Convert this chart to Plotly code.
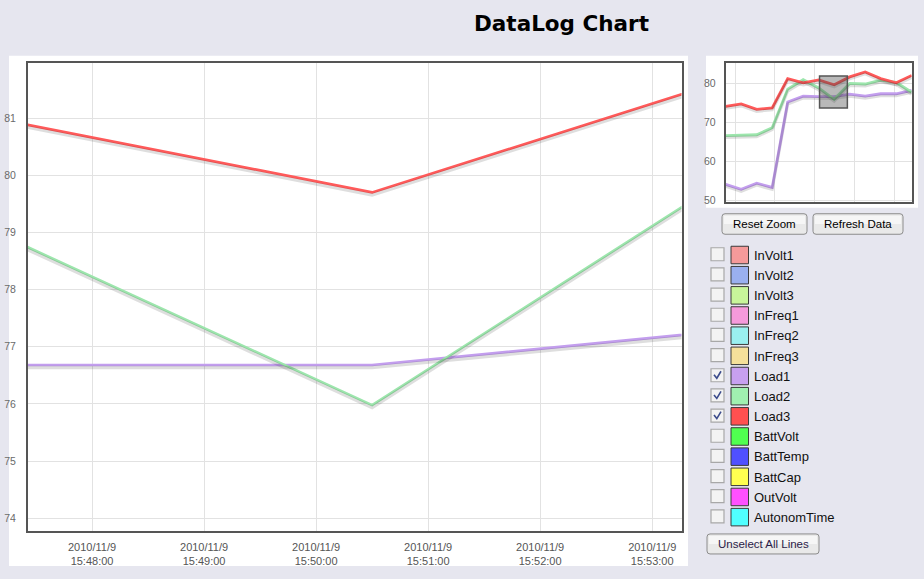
import plotly.graph_objects as go

# ---------------- data ----------------
times = [
    "2010-11-09 15:27:45", "2010-11-09 15:31:00", "2010-11-09 15:34:15",
    "2010-11-09 15:37:30", "2010-11-09 15:40:45", "2010-11-09 15:44:00",
    "2010-11-09 15:47:15", "2010-11-09 15:50:30", "2010-11-09 15:53:45",
    "2010-11-09 15:57:00", "2010-11-09 16:00:15", "2010-11-09 16:03:30",
    "2010-11-09 16:06:45",
]
load1 = [54.2, 52.9, 54.5, 53.4, 75.3, 76.8, 76.68, 76.68, 77.30, 76.8, 77.4, 77.4, 78.3]
load2 = [66.7, 66.8, 66.9, 68.7, 78.6, 81.0, 78.90, 75.98, 80.05, 79.9, 80.9, 80.3, 77.8]
load3 = [74.2, 74.8, 73.4, 73.8, 81.3, 80.2, 80.95, 79.70, 81.72, 83.0, 81.3, 80.2, 82.1]

series_names = ["InVolt1", "InVolt2", "InVolt3", "InFreq1", "InFreq2", "InFreq3",
                "Load1", "Load2", "Load3", "BattVolt", "BattTemp", "BattCap",
                "OutVolt", "AutonomTime"]
series_colors = ["#f59a9a", "#9ab0f0", "#c8f59a", "#f59adb", "#9af0f0", "#f5e09a",
                 "#c8a0f0", "#a0f0b0", "#ff5050", "#50ff50", "#5050ff", "#ffff50",
                 "#ff50ff", "#50ffff"]
selected = ["Load1", "Load2", "Load3"]
plotted = {"Load1": load1, "Load2": load2, "Load3": load3}
line_colors = {"Load1": "#c39eee", "Load2": "#9de6ad", "Load3": "#ff5a5a"}

# zoom window shown in the main chart
view_x = ["2010-11-09 15:47:25.7", "2010-11-09 15:53:15.7"]
view_y = [73.77, 81.96]
over_y = [49.66, 85.3]

# ---------------- page geometry (pixels) ----------------
W, H = 924, 579
BG = "#e6e6ef"
FONT = "Liberation Sans, Arial, sans-serif"


def px(x):
    return x / W


def py(y):
    return 1 - (y * 1.0076 - 0.4) / H


main_box = (28, 63.5, 681.5, 531.5)      # left, top, right, bottom
over_box = (725.7, 63.3, 911.7, 202.3)

fig = go.Figure()

# shadows under the lines (same data on offset overlay axes)
for name in selected:
    fig.add_trace(go.Scatter(x=times, y=plotted[name], xaxis="x", yaxis="y3",
                             mode="lines", line=dict(color="rgba(0,0,0,0.13)", width=3.5),
                             hoverinfo="skip", showlegend=False))
    fig.add_trace(go.Scatter(x=times, y=plotted[name], xaxis="x2", yaxis="y4",
                             mode="lines", line=dict(color="rgba(0,0,0,0.13)", width=3),
                             hoverinfo="skip", showlegend=False))
for name in selected:
    fig.add_trace(go.Scatter(x=times, y=plotted[name], xaxis="x", yaxis="y",
                             mode="lines", name=name,
                             line=dict(color=line_colors[name], width=2.6),
                             showlegend=False))
    fig.add_trace(go.Scatter(x=times, y=plotted[name], xaxis="x2", yaxis="y2",
                             mode="lines", name=name,
                             line=dict(color=line_colors[name], width=2.8),
                             showlegend=False))

main_span = view_y[1] - view_y[0]
shadow_main = 2.5 * main_span / (main_box[3] - main_box[1])
over_span = over_y[1] - over_y[0]
shadow_over = 2.0 * over_span / (over_box[3] - over_box[1])

axis_common = dict(showline=True, linecolor="#555555", linewidth=2, mirror=True,
                   gridcolor="#e2e2e2", gridwidth=1, zeroline=False, ticks="")

shapes = []
# white panels
shapes.append(dict(type="rect", xref="paper", yref="paper", layer="below",
                   x0=px(9), x1=px(688), y0=py(566), y1=py(56),
                   fillcolor="white", line=dict(width=0)))
shapes.append(dict(type="rect", xref="paper", yref="paper", layer="below",
                   x0=px(706), x1=px(918), y0=py(208), y1=py(56),
                   fillcolor="white", line=dict(width=0)))
# zoom window indicator in the overview
shapes.append(dict(type="rect", xref="x2", yref="y2", layer="above",
                   x0=view_x[0], x1=view_x[1], y0=view_y[0], y1=view_y[1],
                   fillcolor="rgba(70,70,70,0.38)", line=dict(color="#555555", width=1.5)))


def rounded(x0, y0, x1, y1, r=3):
    pts = [
        f"M {px(x0 + r)} {py(y0)}", f"L {px(x1 - r)} {py(y0)}",
        f"Q {px(x1)} {py(y0)} {px(x1)} {py(y0 + r)}", f"L {px(x1)} {py(y1 - r)}",
        f"Q {px(x1)} {py(y1)} {px(x1 - r)} {py(y1)}", f"L {px(x0 + r)} {py(y1)}",
        f"Q {px(x0)} {py(y1)} {px(x0)} {py(y1 - r)}", f"L {px(x0)} {py(y0 + r)}",
        f"Q {px(x0)} {py(y0)} {px(x0 + r)} {py(y0)}", "Z",
    ]
    return " ".join(pts)


annotations = []


def button(x0, y0, x1, y1, label, color="black"):
    shapes.append(dict(type="path", xref="paper", yref="paper",
                       path=rounded(x0, y0, x1, y1), fillcolor="#e9e9e9",
                       line=dict(color="#8c8c8c", width=1)))
    shapes.append(dict(type="rect", xref="paper", yref="paper",
                       x0=px(x0 + 2), x1=px(x1 - 2), y0=py(y0 + (y1 - y0) / 2), y1=py(y0 + 2),
                       fillcolor="#f6f6f6", line=dict(width=0)))
    annotations.append(dict(x=px((x0 + x1) / 2), y=py((y0 + y1) / 2), xref="paper", yref="paper",
                            text=label, showarrow=False, xanchor="center", yanchor="middle",
                            font=dict(family=FONT, size=11.5, color=color)))


button(722, 214, 807, 234.5, "Reset Zoom")
button(813, 214, 903, 234.5, "Refresh Data")
button(707, 534, 819, 554, "Unselect All Lines", color="#2b1b48")

# series checklist
for i, (name, col) in enumerate(zip(series_names, series_colors)):
    cy = 255 + 20.15 * i
    shapes.append(dict(type="rect", xref="paper", yref="paper",
                       x0=px(711), x1=px(724), y0=py(cy + 6), y1=py(cy - 7),
                       fillcolor="#f3f3f3", line=dict(color="#a8a8a8", width=1.2)))
    if name in selected:
        shapes.append(dict(type="path", xref="paper", yref="paper",
                           path=f"M {px(714)} {py(cy - 1)} L {px(716.8)} {py(cy + 2.5)} L {px(721)} {py(cy - 4.5)}",
                           line=dict(color="#3c4c8c", width=1.6)))
    shapes.append(dict(type="rect", xref="paper", yref="paper",
                       x0=px(731), x1=px(748.5), y0=py(cy + 9), y1=py(cy - 8.5),
                       fillcolor=col, line=dict(color="#3a3a3a", width=1)))
    annotations.append(dict(x=px(751.5), y=py(cy + 0.5), xref="paper", yref="paper",
                            text=name, showarrow=False, xanchor="left", yanchor="middle",
                            font=dict(family=FONT, size=13, color="#111111")))

annotations.append(dict(x=px(561), y=py(24), xref="paper", yref="paper",
                        text="<b>DataLog Chart</b>", showarrow=False,
                        xanchor="center", yanchor="middle",
                        font=dict(family="DejaVu Sans, sans-serif", size=21.5, color="black")))

fig.update_layout(
    width=W, height=H, margin=dict(l=0, r=0, t=0, b=0),
    paper_bgcolor=BG, plot_bgcolor="white",
    showlegend=False, shapes=shapes, annotations=annotations,
    xaxis=dict(domain=[px(main_box[0]), px(main_box[2])], anchor="y", type="date",
               range=view_x, tick0="2010-11-09 15:48:00", dtick=60000,
               tickformat="%Y/%-m/%-d<br>%H:%M:%S", ticklabelstandoff=4,
               tickfont=dict(family=FONT, size=11, color="#555555"), **axis_common),
    yaxis=dict(domain=[py(main_box[3]), py(main_box[1])], anchor="x",
               range=view_y, dtick=1, tick0=0, ticklabelstandoff=8,
               tickfont=dict(family=FONT, size=10.5, color="#6a6a6a"), **axis_common),
    yaxis3=dict(overlaying="y", anchor="x", visible=False,
                range=[view_y[0] + shadow_main, view_y[1] + shadow_main]),
    xaxis2=dict(domain=[px(over_box[0]), px(over_box[2])], anchor="y2", type="date",
                range=[times[0], times[-1]], tick0="2010-11-09 15:29:42", dtick=503000,
                showticklabels=False, **axis_common),
    yaxis2=dict(domain=[py(over_box[3]), py(over_box[1])], anchor="x2",
                range=over_y, dtick=10, tick0=0, ticklabelstandoff=6,
                tickfont=dict(family=FONT, size=10.5, color="#6a6a6a"), **axis_common),
    yaxis4=dict(overlaying="y2", anchor="x2", visible=False,
                range=[over_y[0] + shadow_over, over_y[1] + shadow_over]),
)

fig.write_html("out.html")
